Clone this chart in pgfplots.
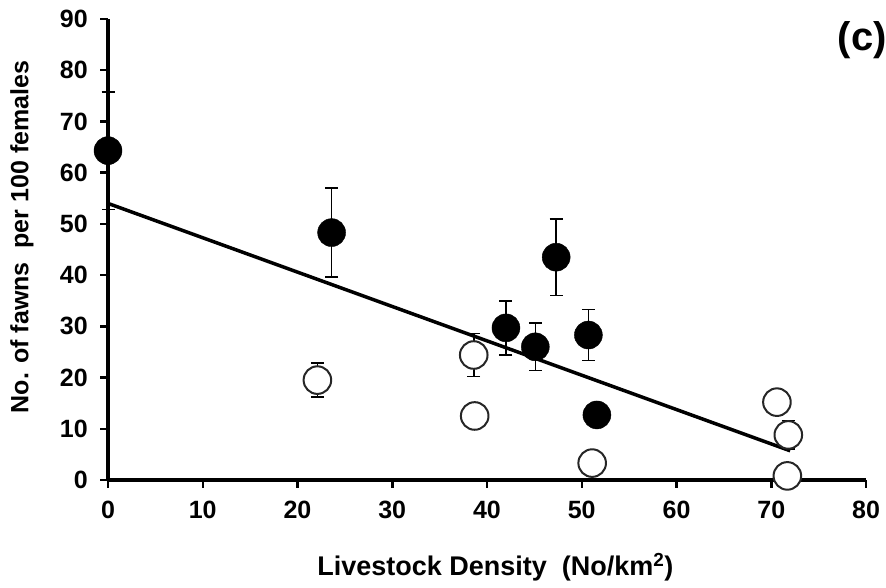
\documentclass[border=0pt]{standalone}
\usepackage{fontspec}
\setmainfont{Liberation Sans}
\usepackage{pgfplots}
\pgfplotsset{compat=1.18}
\pgfplotstableread{
x y e
0 64.3 11.5
23.6 48.3 8.7
42.0 29.7 5.3
45.1 26.0 4.6
47.3 43.5 7.5
50.7 28.3 5.0
51.6 12.7 0
}\filled
\pgfplotstableread{
x y e
22.1 19.5 3.3
38.6 24.4 4.2
38.7 12.5 0
51.1 3.3 0
70.6 15.2 0
71.8 8.8 2.8
71.7 0.8 0
}\open
\begin{document}
\begin{tikzpicture}
\useasboundingbox (0,0) rectangle (886pt,588pt);
\begin{axis}[
 at={(108pt,108pt)}, anchor=south west,
 scale only axis, width=758pt, height=461pt,
 xmin=0,xmax=80,ymin=0,ymax=90,
 axis x line*=bottom, axis y line*=left,
 axis line style={-, line width=3.5pt, black},
 x axis line style={line width=4pt},
 xtick={0,10,...,80}, ytick={0,10,...,90},
 tick align=outside, major tick length=8pt,
 tick style={line width=2.5pt,black},
 ticklabel style={font=\fontsize{25}{30}\selectfont\bfseries, inner sep=0pt},
 /pgf/number format/assume math mode=true,
 xticklabel style={anchor=north, yshift=-13pt},
 yticklabel style={anchor=east, xshift=-12pt},
 clip=false,
]
\addplot[line width=3.5pt, black] coordinates {(0,54) (72,5.7)};
\addplot[only marks, mark=*, mark size=13.8pt, mark options={fill=white,draw=black!85,line width=2pt},
  error bars/.cd, y dir=both, y explicit,
  error bar style={line width=1.6pt,black},
  error mark options={rotate=90, mark size=6.5pt, line width=1.6pt, black}]
  table[x=x,y=y,y error=e] {\open};
\addplot[only marks, mark=*, mark size=14pt, mark options={fill=black,draw=black},
  error bars/.cd, y dir=both, y explicit,
  error bar style={line width=1.6pt,black},
  error mark options={rotate=90, mark size=6.5pt, line width=1.6pt, black}]
  table[x=x,y=y,y error=e] {\filled};
\node[rotate=90, font=\fontsize{25}{30}\selectfont\bfseries] at (axis description cs:-0.1135,0.527) {No. of fawns\ \ per 100 females};
\node[font=\fontsize{27}{32}\selectfont\bfseries] at (axis description cs:0.511,-0.19) {Livestock Density\ \ (No/km\textsuperscript{2})};
\node[font=\fontsize{40}{48}\selectfont\bfseries] at (axis description cs:0.995,0.953) {(c)};
\end{axis}
\end{tikzpicture}
\end{document}
